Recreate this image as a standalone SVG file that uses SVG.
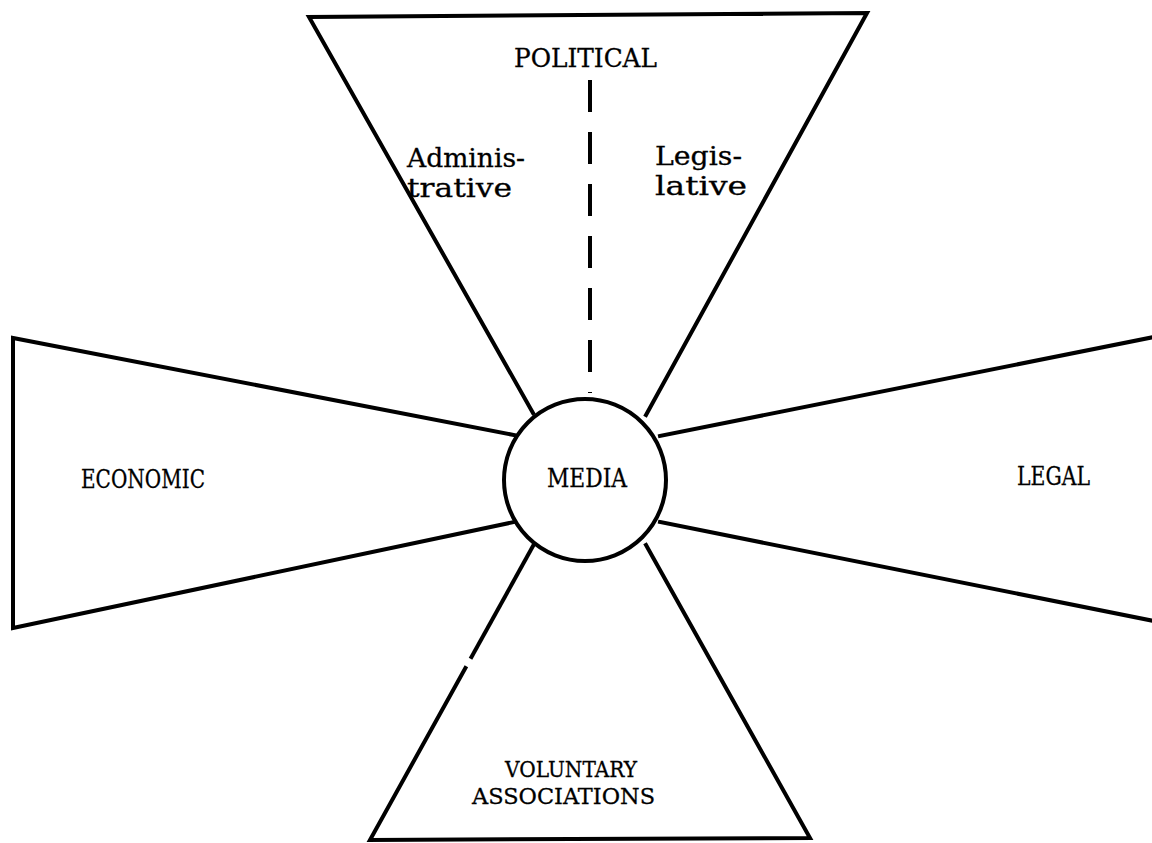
<svg xmlns="http://www.w3.org/2000/svg" width="1152" height="843" viewBox="0 0 1152 843">
<style>
.edge{fill:none;stroke:#000;stroke-width:4;stroke-linejoin:miter;stroke-linecap:square}
.dash{fill:none;stroke:#000;stroke-width:4;stroke-dasharray:32 20}
.lbl{font-family:"DejaVu Serif","Liberation Serif",serif;font-size:26px;fill:#000;stroke:#000;stroke-width:0.3}
.sm{font-size:23px}
</style>
<rect width="1152" height="843" fill="#fff"/>
<g id="political">
<polyline class="edge" points="533,413 309,17 867,13 646,415"/>
<line class="dash" x1="590" y1="80" x2="590" y2="393"/>
<text class="lbl" x="514" y="67" textLength="143" lengthAdjust="spacingAndGlyphs">POLITICAL</text>
<text class="lbl" x="407" y="167" textLength="118" lengthAdjust="spacingAndGlyphs">Adminis-</text>
<text class="lbl" x="407" y="197" textLength="105" lengthAdjust="spacingAndGlyphs">trative</text>
<text class="lbl" x="655" y="165" textLength="87" lengthAdjust="spacingAndGlyphs">Legis-</text>
<text class="lbl" x="655" y="195" textLength="92" lengthAdjust="spacingAndGlyphs">lative</text>
</g>
<g id="economic">
<polyline class="edge" points="514,435 13,338 13,628 514,522"/>
<text class="lbl" x="81" y="488" textLength="124" lengthAdjust="spacingAndGlyphs">ECONOMIC</text>
</g>
<g id="legal">
<polyline class="edge" points="660,436 1154,337"/>
<polyline class="edge" points="660,522 1154,621"/>
<text class="lbl" x="1017" y="485" textLength="73" lengthAdjust="spacingAndGlyphs">LEGAL</text>
</g>
<g id="voluntary">
<polyline class="edge" points="471.5,657 533,546"/>
<polyline class="edge" points="465.4,668 370,840 810,838 646,545"/>
<text class="lbl sm" x="505" y="777" textLength="132" lengthAdjust="spacingAndGlyphs">VOLUNTARY</text>
<text class="lbl sm" x="472" y="804" textLength="183" lengthAdjust="spacingAndGlyphs">ASSOCIATIONS</text>
</g>
<g id="media">
<circle cx="585" cy="480" r="81" fill="#fff" stroke="#000" stroke-width="4"/>
<text class="lbl" x="547" y="487" textLength="80" lengthAdjust="spacingAndGlyphs">MEDIA</text>
</g>
</svg>
